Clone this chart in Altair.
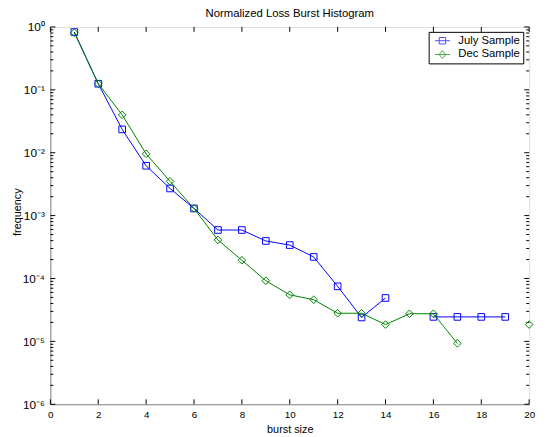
import altair as alt
import pandas as pd

# ---- data ----
july_x = [1, 2, 3, 4, 5, 6, 7, 8, 9, 10, 11, 12, 13, 14, 16, 17, 18, 19]
july_y = [0.83, 0.125, 0.0235, 0.0062, 0.0027, 0.0013, 5.9e-4, 5.9e-4, 3.95e-4,
          3.4e-4, 2.2e-4, 7.5e-5, 2.4e-5, 4.9e-5, 2.45e-5, 2.45e-5, 2.45e-5, 2.45e-5]
july_seg = [0] * 14 + [1] * 4

dec_x = [1, 2, 3, 4, 5, 6, 7, 8, 9, 10, 11, 12, 13, 14, 15, 16, 17, 20]
dec_y = [0.81, 0.125, 0.04, 0.0096, 0.0035, 0.0013, 4.1e-4, 1.95e-4, 9.2e-5,
         5.5e-5, 4.6e-5, 2.8e-5, 2.8e-5, 1.85e-5, 2.75e-5, 2.75e-5, 9.3e-6, 1.85e-5]
dec_seg = [0] * 17 + [1]

series_names = ["July Sample", "Dec Sample"]
series_colors = ["#0000ff", "#008000"]

x_ticks = [0, 2, 4, 6, 8, 10, 12, 14, 16, 18, 20]
y_major = [1e-6, 1e-5, 1e-4, 1e-3, 1e-2, 1e-1, 1e0]
y_minor = [k * d for d in y_major[:-1] for k in range(2, 10)]

W, H = 486, 383
FONT = "Liberation Sans"

july = pd.DataFrame({"x": july_x, "y": july_y, "seg": july_seg, "series": series_names[0]})
dec = pd.DataFrame({"x": dec_x, "y": dec_y, "seg": dec_seg, "series": series_names[1]})
both = pd.concat([july, dec], ignore_index=True)

xs = alt.Scale(domain=[0, 20], nice=False, zero=False)
ys = alt.Scale(type="log", domain=[1e-6, 1], nice=False)

x_enc = alt.X("x:Q", scale=xs, axis=alt.Axis(values=x_ticks, ticks=False, grid=False,
                                            labelFlush=False, labelOverlap=False,
                                            labelPadding=5, title="burst size", titlePadding=5,
                                            titleFontWeight="normal"))
y_enc = alt.Y("y:Q", scale=ys, axis=alt.Axis(
    values=y_major, ticks=False, grid=False, labelPadding=6, title="frequency",
    labelFlush=False, labelOverlap=False,
    titleX=-33, titleY=H / 2 - 4, titleAngle=270, titleBaseline="middle", titleAlign="center",
    titleFontWeight="normal", labelFontSize=12,
    labelExpr="'10' + ['⁻⁶','⁻⁵','⁻⁴','⁻³','⁻²','⁻¹','⁰'][round(log(datum.value)/LN10)+6]"))


def series_layers(df, color, shape, size):
    line = alt.Chart(df).mark_line(color=color, strokeWidth=1).encode(
        x=x_enc, y=y_enc, detail="seg:N")
    pts = alt.Chart(df).mark_point(color=color, shape=shape, size=size, filled=False,
                                   strokeWidth=1, opacity=1).encode(x=x_enc, y=y_enc)
    return [line, pts]


layers = series_layers(july, series_colors[0], "square", 45) + \
    series_layers(dec, series_colors[1], "diamond", 60)

# legend-only layer (no rows drawn)
sq_path = "M-1.45,0H1.45M-0.62,-0.62H0.62V0.62H-0.62Z"
dm_path = "M-1.45,0H1.45M0,-0.75L0.65,0L0,0.75L-0.65,0Z"
legend_layer = alt.Chart(both).transform_filter("datum.x < 0").mark_point(
    filled=False, strokeWidth=1).encode(
    x=x_enc, y=y_enc,
    color=alt.Color("series:N", scale=alt.Scale(domain=series_names, range=series_colors),
                    legend=alt.Legend(title=None, orient="none", legendX=384, legendY=5,
                                      strokeColor="black", fillColor="white",
                                      padding=3, rowPadding=2, symbolSize=110,
                                      symbolOffset=5, labelOffset=10,
                                      symbolStrokeWidth=1, labelFontSize=11.5, labelFont=FONT,
                                      labelColor="black")),
    shape=alt.Shape("series:N", scale=alt.Scale(domain=series_names, range=[sq_path, dm_path])),
)

# inward tick marks (MATLAB style)
xt = pd.DataFrame({"x": x_ticks})
ymj = pd.DataFrame({"y": y_major})
ymn = pd.DataFrame({"y": y_minor})
tick_layers = [
    alt.Chart(xt).mark_rule(color="black", strokeWidth=1).encode(
        x=alt.X("x:Q", scale=xs), y=alt.value(H), y2=alt.value(H - 5)),
    alt.Chart(xt).mark_rule(color="black", strokeWidth=1).encode(
        x=alt.X("x:Q", scale=xs), y=alt.value(0), y2=alt.value(5)),
    alt.Chart(ymj).mark_rule(color="black", strokeWidth=1).encode(
        y=alt.Y("y:Q", scale=ys), x=alt.value(0), x2=alt.value(5)),
    alt.Chart(ymj).mark_rule(color="black", strokeWidth=1).encode(
        y=alt.Y("y:Q", scale=ys), x=alt.value(W), x2=alt.value(W - 5)),
    alt.Chart(ymn).mark_rule(color="black", strokeWidth=1).encode(
        y=alt.Y("y:Q", scale=ys), x=alt.value(0), x2=alt.value(3)),
    alt.Chart(ymn).mark_rule(color="black", strokeWidth=1).encode(
        y=alt.Y("y:Q", scale=ys), x=alt.value(W), x2=alt.value(W - 3)),
]

chart = alt.layer(*tick_layers, *layers, legend_layer).properties(
    width=W, height=H,
    title=alt.Title("Normalized Loss Burst Histogram", fontSize=11.5, font=FONT,
                    fontWeight="normal", color="black", offset=2),
    autosize=alt.AutoSizeParams(type="none"),
    padding={"left": 43, "top": 16, "right": 11, "bottom": 30},
).configure_view(stroke="black", strokeWidth=1).configure_axis(
    labelFont=FONT, labelFontSize=11, labelColor="black",
    titleFont=FONT, titleFontSize=11, titleFontWeight="normal", titleColor="black",
    domainColor="black", domainWidth=1,
).configure(background="white")

chart.save("out.html", embed_options={"renderer": "svg", "actions": False})
